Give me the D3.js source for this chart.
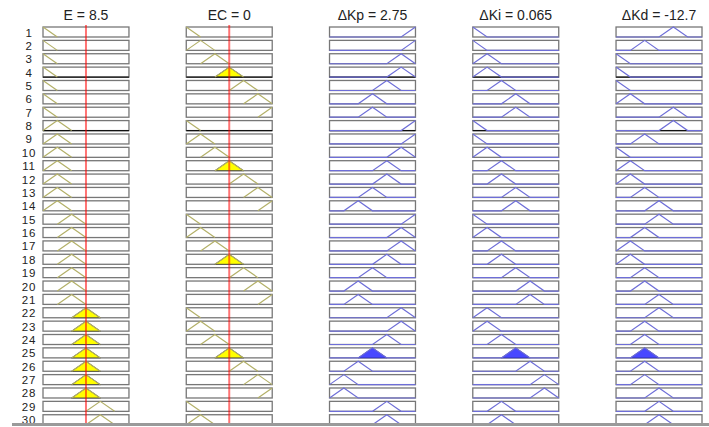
<!DOCTYPE html>
<html>
<head>
<meta charset="utf-8">
<script src="https://cdn.jsdelivr.net/npm/d3@7"></script>
<style>
  body { margin: 0; background: #fff; }
  svg { display: block; font-family: Arial, 'Liberation Sans', Helvetica, sans-serif; }
</style>
</head>
<body>
<script>
// fuzzy PID rule viewer: 2 inputs (E, EC), 3 outputs (dKp, dKi, dKd)
const varNames = ['E', 'EC', 'ΔKp', 'ΔKi', 'ΔKd'];
const varValues = ['8.5', '0', '2.75', '0.065', '-12.7'];
const inputLevels = [0, 0]; // where the red lines sit on the [-3, 3] universe

// NB NM NS ZO PS PM PB
const mfCenters = [-3, -2, -1, 0, 1, 2, 3];

// rule table, MF index (1..7) per rule, only the first 30 rules are visible
const ruleE  = [1,1,1,1,1,1,1, 2,2,2,2,2,2,2, 3,3,3,3,3,3,3, 4,4,4,4,4,4,4, 5,5];
const ruleEC = [1,2,3,4,5,6,7, 1,2,3,4,5,6,7, 1,2,3,4,5,6,7, 1,2,3,4,5,6,7, 1,2];
const ruleKp = [7,7,6,6,5,4,4, 7,7,6,5,5,4,3, 7,6,6,5,4,3,3, 6,6,5,4,3,2,2, 5,5];
const ruleKi = [1,1,2,2,3,4,4, 1,1,2,3,3,4,4, 1,2,3,3,4,5,5, 2,2,3,4,5,6,6, 3,3];
const ruleKd = [5,3,1,1,1,2,5, 5,3,1,2,2,3,4, 4,3,2,2,3,3,4, 4,3,3,3,3,3,4, 4,4];

const ruleCols = [ruleE, ruleEC, ruleKp, ruleKi, ruleKd];
const nRules = ruleE.length;

const width = 709;
const height = 427;
const boxH = 10;
const halfWidth = 1;
const darkRows = [4, 8]; // these rows render with a black bottom edge

const tri = (x, c) => Math.max(0, 1 - Math.abs(x - c) / halfWidth);

function mfPoints(c, h, full) {
  const lo = full ? -3 : Math.max(-3, c - halfWidth);
  const hi = full ? 3 : Math.min(3, c + halfWidth);
  const xs = [lo, c - halfWidth, c - halfWidth + h, c, c + halfWidth - h, c + halfWidth, hi]
    .filter(x => x >= lo && x <= hi)
    .sort((a, b) => a - b);
  return xs.map(x => [x, Math.min(tri(x, c), h)]);
}

// firing strength of each rule (min of the two input memberships)
const firing = d3.range(nRules).map(i => Math.min(
  tri(inputLevels[0], mfCenters[ruleE[i] - 1]),
  tri(inputLevels[1], mfCenters[ruleEC[i] - 1])
));

const svg = d3.select('body')
  .append('svg')
  .attr('width', width)
  .attr('height', height);

svg.append('defs')
  .append('clipPath')
  .attr('id', 'clip')
  .append('rect')
  .attr('x', 0).attr('y', 0)
  .attr('width', width).attr('height', 423);

const colScale = d3.scaleBand()
  .domain(varNames)
  .range([43, 702])
  .paddingInner(0.4);

const rowScale = d3.scaleLinear()
  .domain([1, 30])
  .range([27, 27 + 29 * 13.37]);

const yLevel = d3.scaleLinear().domain([0, 1]).range([boxH, 0]);

const plot = svg.append('g').attr('clip-path', 'url(#clip)');

// row numbers
plot.append('g')
  .selectAll('text')
  .data(d3.range(1, nRules + 1))
  .enter()
  .append('text')
  .attr('x', 29)
  .attr('y', d => rowScale(d) + boxH / 2 + 0.5)
  .attr('text-anchor', 'middle')
  .attr('dominant-baseline', 'central')
  .attr('font-size', 11.5)
  .attr('letter-spacing', 0.8)
  .attr('fill', '#222')
  .text(d => d);

varNames.forEach((name, j) => {
  const isInput = j < 2;
  const x = d3.scaleLinear().domain([-3, 3]).range([0, colScale.bandwidth()]);
  const line = d3.line().x(d => x(d[0])).y(d => yLevel(d[1]));
  const lineColor = isInput ? '#b3b068' : '#6e6ed8';

  svg.append('text')
    .attr('x', colScale(name) + colScale.bandwidth() / 2)
    .attr('y', 20)
    .attr('text-anchor', 'middle')
    .attr('font-size', 14)
    .attr('fill', '#222')
    .text(`${name} = ${varValues[j]}`);

  const col = plot.append('g')
    .attr('transform', `translate(${colScale(name)},0)`);

  const cells = col.selectAll('g.cell')
    .data(ruleCols[j].map((mf, i) => ({ mf, i })))
    .enter()
    .append('g')
    .attr('class', 'cell')
    .attr('transform', d => `translate(0,${rowScale(d.i + 1)})`);

  cells.append('rect')
    .attr('x', 0)
    .attr('y', 0)
    .attr('width', colScale.bandwidth())
    .attr('height', boxH)
    .attr('fill', '#fff')
    .attr('stroke', '#777')
    .attr('stroke-width', 1.3);

  // filled part: input membership or clipped output
  cells.each(function (d) {
    const c = mfCenters[d.mf - 1];
    const h = isInput ? tri(inputLevels[j], c) : firing[d.i];
    if (h <= 0) return;
    const pts = mfPoints(c, h, false);
    const poly = [[pts[0][0], 0], ...pts, [pts[pts.length - 1][0], 0]];
    d3.select(this).append('path')
      .attr('d', line(poly) + 'Z')
      .attr('fill', isInput ? '#ffff00' : '#4848ff')
      .attr('stroke', isInput ? '#444' : '#3434b0')
      .attr('stroke-width', 0.9);
  });

  cells.filter(d => darkRows.includes(d.i + 1))
    .append('line')
    .attr('x1', 0)
    .attr('x2', colScale.bandwidth())
    .attr('y1', boxH)
    .attr('y2', boxH)
    .attr('stroke', '#111')
    .attr('stroke-width', 1.4);

  cells.append('path')
    .attr('d', d => line(mfPoints(mfCenters[d.mf - 1], 1, !isInput)))
    .attr('fill', 'none')
    .attr('stroke', lineColor)
    .attr('stroke-width', 1.2);

  if (isInput) {
    col.append('line')
      .attr('x1', x(inputLevels[j]))
      .attr('x2', x(inputLevels[j]))
      .attr('y1', 25)
      .attr('y2', 423)
      .attr('stroke', '#ff0000')
      .attr('stroke-opacity', 0.55)
      .attr('stroke-width', 2);
  }
});

// bottom edge of the viewer panel
svg.append('rect')
  .attr('x', 12)
  .attr('y', 423)
  .attr('width', width - 12)
  .attr('height', 3)
  .attr('fill', '#9a9a9a');
</script>
</body>
</html>
